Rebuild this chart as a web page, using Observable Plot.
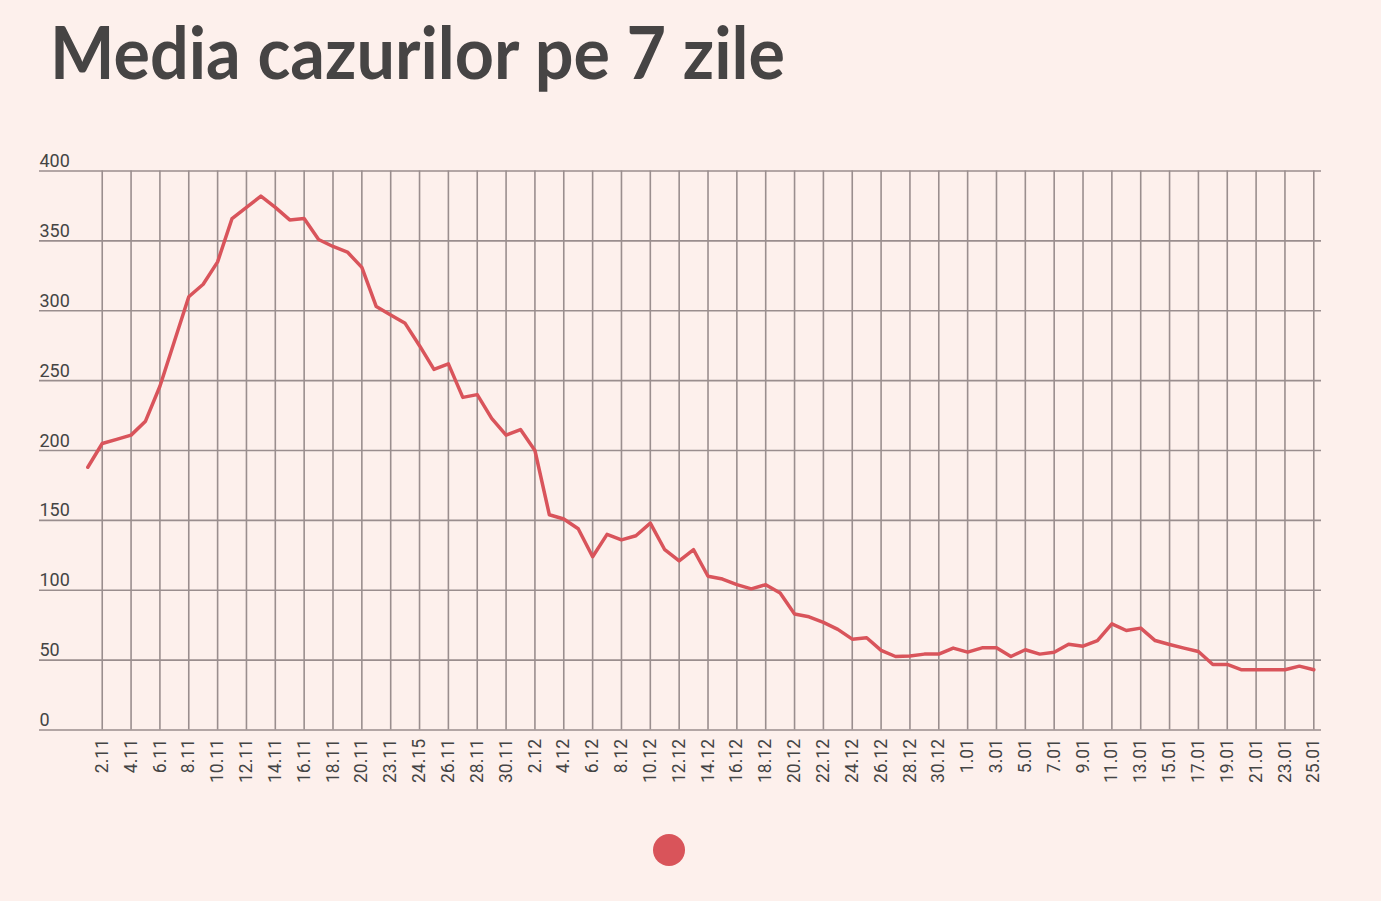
<!DOCTYPE html>
<html>
<head>
<meta charset="utf-8">
<script src="https://cdn.jsdelivr.net/npm/d3@7"></script>
<script src="https://cdn.jsdelivr.net/npm/@observablehq/plot@0.6"></script>
<style>
  html, body { margin: 0; padding: 0; background: #fdf0ec; width: 1381px; height: 901px; overflow: hidden; }
  #title { position: absolute; left: 50px; top: 15px; font-family: Lato, "Open Sans", sans-serif; font-weight: 700;
           font-size: 73px; line-height: 1; color: #464444; white-space: nowrap; transform-origin: 0 0; }
  #chart { position: absolute; left: 0; top: 100px; }
  #dot { position: absolute; left: 653px; top: 834px; width: 32px; height: 32px; border-radius: 50%; background: #d9545a; }
</style>
</head>
<body>
<div id="title">Media cazurilor pe 7 zile</div>
<div id="chart"></div>
<div id="dot"></div>
<script>
// Categories (one per day, in order)
const dates = [
  "1.11","2.11","3.11","4.11","5.11","6.11","7.11","8.11","9.11","10.11",
  "11.11","12.11","13.11","14.11","15.11","16.11","17.11","18.11","19.11","20.11",
  "21.11","23.11","24.11","24.15","25.11","26.11","27.11","28.11","29.11","30.11",
  "1.12","2.12","3.12","4.12","5.12","6.12","7.12","8.12","9.12","10.12",
  "11.12","12.12","13.12","14.12","15.12","16.12","17.12","18.12","19.12","20.12",
  "21.12","22.12","23.12","24.12","25.12","26.12","27.12","28.12","29.12","30.12",
  "31.12","1.01","2.01","3.01","4.01","5.01","6.01","7.01","8.01","9.01",
  "10.01","11.01","12.01","13.01","14.01","15.01","16.01","17.01","18.01","19.01",
  "20.01","21.01","22.01","23.01","24.01","25.01"
];

// 7-day average of cases
const values = [
  188, 205, 208, 211, 221, 246, 278, 310, 319, 335,
  366, 374, 382, 374, 365, 366, 351, 346, 342, 331,
  303, 297, 291, 275, 258, 262, 238, 240, 223, 211,
  215, 200, 154, 151, 144, 124, 140, 136, 139, 148,
  129, 121, 129, 110, 108, 104, 101, 104, 98, 83,
  81, 77, 72, 65, 66, 57, 52.6, 52.9, 54.3, 54.3,
  58.6, 55.7, 58.8, 58.8, 52.6, 57.4, 54.3, 55.7, 61.4, 60,
  64, 76, 71.2, 72.9, 64, 61.2, 58.6, 56.2, 46.9, 46.9,
  43.1, 43.1, 43.1, 43.1, 45.7, 43.1
];

// Tick labels shown on the x axis
const xTickLabels = [
  "2.11","4.11","6.11","8.11","10.11","12.11","14.11","16.11","18.11","20.11",
  "23.11","24.15","26.11","28.11","30.11","2.12","4.12","6.12","8.12","10.12",
  "12.12","14.12","16.12","18.12","20.12","22.12","24.12","26.12","28.12","30.12",
  "1.01","3.01","5.01","7.01","9.01","11.01","13.01","15.01","17.01","19.01",
  "21.01","23.01","25.01"
];

// y tick values
const yTicks = [0, 50, 100, 150, 200, 250, 300, 350, 400];

const rows = dates.map((d, i) => ({date: d, value: values[i]}));

const gridColor = "#9a8e8e";

const chart = Plot.plot({
  width: 1381,
  height: 700,
  marginLeft: 39,
  marginRight: 60,
  marginTop: 70.5,
  marginBottom: 70.5,
  style: {background: "transparent", fontFamily: "Roboto, sans-serif", color: "#444"},
  x: {type: "point", domain: dates, range: [87.3, 1313.3], padding: 0},
  y: {domain: [0, 400], axis: null},
  marks: [
    Plot.ruleY(yTicks, {y: d => d, stroke: gridColor, strokeWidth: 1.6}),
    Plot.ruleX(xTickLabels, {x: d => d, y1: 0, y2: 400, stroke: gridColor, strokeWidth: 1.6}),
    Plot.text(yTicks, {y: d => d, text: d => String(d), frameAnchor: "left", textAnchor: "start",
                       lineAnchor: "bottom", dy: -4, fontSize: 18, fill: "#444"}),
    Plot.axisX({ticks: xTickLabels, tickRotate: -90, tickSize: 0, tickPadding: 9, fontSize: 17.5,
                fill: "#444", label: null}),
    Plot.line(rows, {x: "date", y: "value", stroke: "#d9545b", strokeWidth: 3.5, strokeLinejoin: "round"})
  ]
});
document.getElementById("chart").appendChild(chart);

// fit title width to reference
const t = document.getElementById("title");
const w = t.getBoundingClientRect().width;
t.style.transform = `scaleX(${735 / w})`;
</script>
</body>
</html>
